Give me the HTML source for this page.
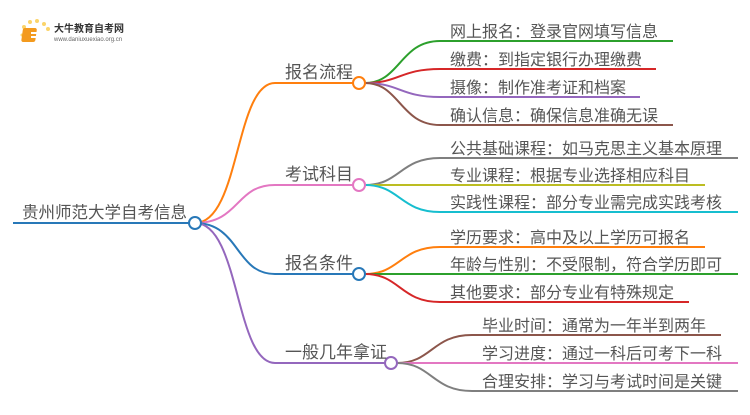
<!DOCTYPE html>
<html><head><meta charset="utf-8"><style>
body{margin:0;background:#fff}
svg text{font-family:"Liberation Sans","Noto Sans CJK SC",sans-serif;fill:#555}
</style></head><body>
<svg width="750" height="410" viewBox="0 0 750 410" xmlns="http://www.w3.org/2000/svg">
<g>
<circle cx="24" cy="27" r="2" fill="#fbd46a"/><circle cx="30" cy="22" r="2" fill="#fbd46a"/><circle cx="37" cy="21" r="2" fill="#fbd46a"/><circle cx="44" cy="24" r="2" fill="#fbd46a"/><circle cx="48" cy="29" r="2" fill="#fbd46a"/><circle cx="22" cy="35" r="1.5" fill="#fbd46a"/>
<rect x="27" y="28" width="14" height="14" rx="2" fill="#f39a1e" transform="skewX(-8)"/>
<rect x="31" y="32" width="8" height="2" fill="#fff"/><rect x="31" y="36" width="8" height="2" fill="#fff"/>
<text x="54" y="32" font-size="10" style="fill:#333;font-weight:bold">大牛教育自考网</text>
<text x="54" y="41" font-size="6" style="fill:#666">www.daniuxuexiao.org.cn</text>
</g>
<g fill="none" stroke-width="2">
<line x1="13" y1="223" x2="189" y2="223" stroke="#2878b8"/>
<path d="M195 223 C240 223,235 83,275 83 L353 83" stroke="#ff7f0e"/>
<path d="M195 223 C240 223,235 185,275 185 L353 185" stroke="#e377c2"/>
<path d="M195 223 C240 223,235 274,275 274 L353 274" stroke="#2878b8"/>
<path d="M195 223 C240 223,235 363,275 363 L385 363" stroke="#9467bd"/>
<path d="M365 83 C400 83,400 41,440 41 L673 41" stroke="#2ca02c"/>
<path d="M365 83 C400 83,400 69,440 69 L656 69" stroke="#d62728"/>
<path d="M365 83 C400 83,400 97,440 97 L640 97" stroke="#9467bd"/>
<path d="M365 83 C400 83,400 125,440 125 L673 125" stroke="#8c564b"/>
<path d="M365 185 C400 185,400 158,440 158 L738 158" stroke="#7f7f7f"/>
<path d="M365 185 L705 185" stroke="#bcbd22"/>
<path d="M365 185 C400 185,400 212,440 212 L738 212" stroke="#17becf"/>
<path d="M365 274 C400 274,400 247,440 247 L705 247" stroke="#ff7f0e"/>
<path d="M365 274 L738 274" stroke="#2ca02c"/>
<path d="M365 274 C400 274,400 302,440 302 L689 302" stroke="#d62728"/>
<path d="M397 363 C432 363,432 335,472 335 L721 335" stroke="#8c564b"/>
<path d="M397 363 L738 363" stroke="#e377c2"/>
<path d="M397 363 C432 363,432 391,472 391 L738 391" stroke="#7f7f7f"/>
</g>
<g fill="#fff" stroke-width="2">
<circle cx="195" cy="223" r="6" stroke="#2878b8"/>
<circle cx="359" cy="83" r="6" stroke="#ff7f0e"/>
<circle cx="359" cy="185" r="6" stroke="#e377c2"/>
<circle cx="359" cy="274" r="6" stroke="#2878b8"/>
<circle cx="391" cy="363" r="6" stroke="#9467bd"/>
</g>
<text x="22" y="218" font-size="16.5">贵州师范大学自考信息</text>
<g font-size="17">
<text x="285" y="78">报名流程</text>
<text x="285" y="180">考试科目</text>
<text x="285" y="269">报名条件</text>
<text x="285" y="358">一般几年拿证</text>
</g>
<g font-size="16">
<text x="450" y="37">网上报名：登录官网填写信息</text>
<text x="450" y="65">缴费：到指定银行办理缴费</text>
<text x="450" y="93">摄像：制作准考证和档案</text>
<text x="450" y="121">确认信息：确保信息准确无误</text>
<text x="450" y="154">公共基础课程：如马克思主义基本原理</text>
<text x="450" y="181">专业课程：根据专业选择相应科目</text>
<text x="450" y="208">实践性课程：部分专业需完成实践考核</text>
<text x="450" y="243">学历要求：高中及以上学历可报名</text>
<text x="450" y="270">年龄与性别：不受限制，符合学历即可</text>
<text x="450" y="298">其他要求：部分专业有特殊规定</text>
<text x="482" y="331">毕业时间：通常为一年半到两年</text>
<text x="482" y="359">学习进度：通过一科后可考下一科</text>
<text x="482" y="387">合理安排：学习与考试时间是关键</text>
</g>
</svg>
</body></html>
